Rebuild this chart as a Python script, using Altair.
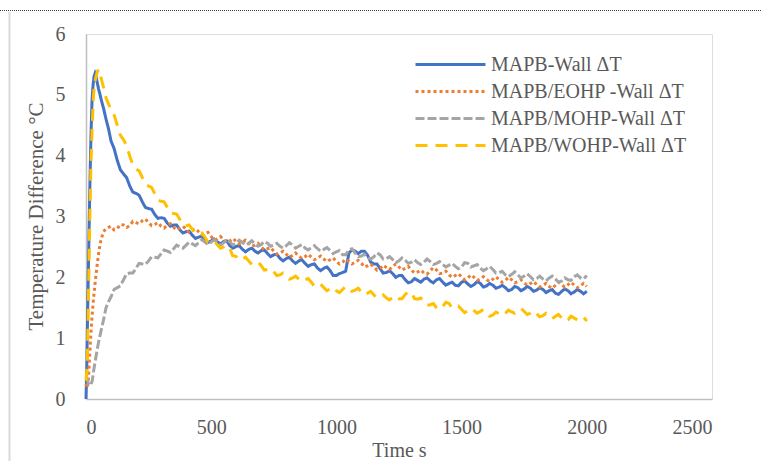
import altair as alt
import pandas as pd

# Series names, colours and dash patterns (Excel-style palette)
SERIES = ["MAPB-Wall ΔT", "MAPB/EOHP -Wall ΔT", "MAPB/MOHP-Wall ΔT", "MAPB/WOHP-Wall ΔT"]
COLORS = ["#4472C4", "#ED7D31", "#A5A5A5", "#FFC000"]
DASHES = [[1, 0], [3, 3], [9, 3], [12, 8]]

X_TICKS = [0, 500, 1000, 1500, 2000, 2500]
Y_TICKS = [0, 1, 2, 3, 4, 5, 6]

# Sampling grids after the initial transient (s): main samples and the
# in-between samples that carry the measurement jitter
T_LATE = list(range(100, 2001, 25))
T_MID = list(range(112, 1988, 25))

# ---------------- MAPB-Wall ----------------
t_wall = [0, 3, 6, 9, 12, 15, 18, 21, 24, 28, 32, 36, 40, 45, 50, 55, 62, 70, 80, 90] + T_LATE
v_wall = [0.00, 0.50, 1.30, 2.00, 2.70, 3.40, 4.00, 4.50, 4.90, 5.15, 5.30, 5.35, 5.30, 5.20,
          5.10, 5.02, 4.90, 4.78, 4.60, 4.44,
          4.24, 3.92, 3.70, 3.50, 3.38, 3.24, 3.13, 3.03, 2.98, 2.89, 2.86, 2.78, 2.75, 2.69,
          2.66, 2.62, 2.60, 2.58, 2.59, 2.52, 2.51, 2.46, 2.46, 2.43, 2.44, 2.39, 2.37, 2.31,
          2.31, 2.27, 2.27, 2.23, 2.21, 2.15, 2.15, 2.11, 2.03, 2.08, 2.40, 2.43, 2.43, 2.36,
          2.22, 2.14, 2.08, 2.06, 2.03, 1.96, 1.93, 1.95, 1.97, 1.94, 1.96, 1.92, 1.90, 1.87,
          1.92, 1.89, 1.88, 1.90, 1.86, 1.87, 1.84, 1.83, 1.80, 1.83, 1.81, 1.82, 1.79, 1.80,
          1.78, 1.74, 1.77, 1.78, 1.76, 1.77, 1.77]
v_wall_mid = [4.12, 3.77, 3.64, 3.40, 3.35, 3.15, 3.12, 2.97, 2.97, 2.84,
              2.86, 2.73, 2.76, 2.64, 2.68, 2.57, 2.63, 2.55, 2.60, 2.48,
              2.52, 2.42, 2.48, 2.40, 2.45, 2.34, 2.38, 2.27, 2.33, 2.23,
              2.29, 2.18, 2.22, 2.11, 2.17, 2.03, 2.06, 2.10, 2.45, 2.39,
              2.43, 2.25, 2.22, 2.07, 2.11, 2.00, 2.03, 1.91, 1.98, 1.92,
              1.99, 1.91, 1.98, 1.87, 1.92, 1.86, 1.94, 1.85, 1.93, 1.84,
              1.90, 1.82, 1.87, 1.78, 1.85, 1.78, 1.85, 1.77, 1.83, 1.75,
              1.80, 1.72, 1.81, 1.73, 1.80, 1.73]

# ---------------- MAPB/EOHP-Wall ----------------
t_eohp = [0, 5, 10, 15, 20, 25, 30, 35, 40, 45, 50, 55, 60, 70, 80, 90] + T_LATE
v_eohp = [0.25, 0.18, 0.35, 0.75, 1.10, 1.40, 1.65, 1.85, 2.05, 2.22, 2.38, 2.52, 2.62, 2.75,
          2.80, 2.82,
          2.84, 2.80, 2.86, 2.85, 2.90, 2.93, 2.90, 2.87, 2.84, 2.86, 2.82, 2.81, 2.79, 2.77,
          2.75, 2.72, 2.67, 2.63, 2.62, 2.60, 2.59, 2.58, 2.56, 2.53, 2.50, 2.47, 2.43, 2.40,
          2.38, 2.36, 2.35, 2.34, 2.33, 2.32, 2.30, 2.29, 2.26, 2.25, 2.26, 2.25, 2.23, 2.19,
          2.17, 2.15, 2.16, 2.18, 2.17, 2.15, 2.12, 2.09, 2.07, 2.11, 2.12, 2.07, 2.04, 2.03,
          2.01, 1.99, 2.00, 1.97, 1.96, 1.97, 1.96, 1.95, 1.96, 1.93, 1.91, 1.90, 1.88, 1.87,
          1.85, 1.87, 1.88, 1.88, 1.87, 1.86, 1.85]
v_eohp_mid = [2.78, 2.87, 2.82, 2.92, 2.88, 2.96, 2.85, 2.90, 2.81, 2.88,
              2.78, 2.84, 2.74, 2.80, 2.70, 2.74, 2.61, 2.67, 2.57, 2.64,
              2.55, 2.61, 2.51, 2.56, 2.45, 2.49, 2.38, 2.43, 2.33, 2.40,
              2.31, 2.38, 2.29, 2.35, 2.26, 2.32, 2.22, 2.30, 2.22, 2.28,
              2.17, 2.22, 2.12, 2.20, 2.13, 2.22, 2.12, 2.18, 2.07, 2.12,
              2.05, 2.16, 2.06, 2.10, 2.00, 2.06, 1.96, 2.04, 1.95, 2.01,
              1.93, 2.01, 1.92, 2.00, 1.91, 1.96, 1.87, 1.93, 1.84, 1.90,
              1.82, 1.92, 1.84, 1.92, 1.83, 1.90]

# ---------------- MAPB/MOHP-Wall ----------------
t_mohp = [0, 5, 10, 15, 20, 25, 30, 35, 40, 45, 50, 60, 70, 80, 90] + T_LATE
v_mohp = [0.37, 0.33, 0.25, 0.22, 0.24, 0.30, 0.45, 0.58, 0.70, 0.82, 0.93, 1.12, 1.30, 1.50,
          1.60,
          1.68, 1.83, 1.96, 2.07, 2.15, 2.22, 2.27, 2.33, 2.39, 2.43, 2.47, 2.50, 2.53, 2.55,
          2.57, 2.58, 2.58, 2.57, 2.57, 2.58, 2.56, 2.57, 2.56, 2.55, 2.54, 2.56, 2.53, 2.51,
          2.52, 2.53, 2.51, 2.48, 2.49, 2.47, 2.46, 2.44, 2.42, 2.37, 2.45, 2.40, 2.35, 2.33,
          2.34, 2.37, 2.31, 2.29, 2.27, 2.28, 2.25, 2.24, 2.25, 2.26, 2.23, 2.21, 2.20, 2.18,
          2.17, 2.23, 2.19, 2.15, 2.14, 2.13, 2.08, 2.04, 2.05, 2.04, 2.02, 2.01, 1.98, 1.97,
          1.99, 1.97, 1.94, 1.96, 2.01, 1.99, 2.03]
v_mohp_mid = [1.80, 1.86, 2.06, 2.07, 2.23, 2.21, 2.34, 2.32, 2.45, 2.41,
              2.53, 2.48, 2.58, 2.52, 2.62, 2.54, 2.62, 2.53, 2.62, 2.53,
              2.61, 2.53, 2.60, 2.51, 2.59, 2.51, 2.56, 2.48, 2.57, 2.48,
              2.54, 2.45, 2.52, 2.43, 2.49, 2.39, 2.44, 2.37, 2.47, 2.34,
              2.38, 2.30, 2.40, 2.30, 2.34, 2.24, 2.32, 2.23, 2.29, 2.21,
              2.30, 2.21, 2.26, 2.17, 2.23, 2.14, 2.24, 2.17, 2.21, 2.11,
              2.18, 2.07, 2.10, 2.01, 2.09, 1.99, 2.06, 1.96, 2.02, 1.94,
              2.02, 1.92, 1.99, 1.95, 2.04, 1.97]

# ---------------- MAPB/WOHP-Wall (extra sample at 585 s for the step) ----------------
t_wohp = ([0, 4, 8, 12, 16, 20, 25, 30, 35, 40, 45, 50, 55, 60, 70, 80, 90]
          + list(range(100, 576, 25)) + [585] + list(range(600, 2001, 25)))
v_wohp = [0.30, 0.50, 1.20, 2.20, 3.10, 3.90, 4.50, 5.00, 5.20, 5.30, 5.38, 5.42, 5.36, 5.28,
          5.12, 4.95, 4.85,
          4.76, 4.50, 4.26, 3.99, 3.78, 3.64, 3.50, 3.37, 3.25, 3.15, 3.05, 2.95, 2.85, 2.79,
          2.72, 2.66, 2.58, 2.53, 2.50, 2.47, 2.36, 2.34, 2.30, 2.27, 2.23, 2.19, 2.13, 2.09,
          2.04, 2.02, 1.99, 1.97, 1.96, 1.92, 1.86, 1.83, 1.81, 1.78, 1.80, 1.82, 1.79, 1.76,
          1.74, 1.71, 1.68, 1.66, 1.67, 1.65, 1.72, 1.74, 1.64, 1.60, 1.55, 1.50, 1.52, 1.57,
          1.51, 1.47, 1.45, 1.45, 1.44, 1.41, 1.38, 1.40, 1.41, 1.43, 1.46, 1.44, 1.41, 1.40,
          1.37, 1.36, 1.36, 1.33, 1.30, 1.33, 1.34, 1.28]
t_wohp_mid = [t for t in T_MID if t != 587]
v_wohp_mid = [4.67, 4.34, 4.17, 3.85, 3.75, 3.53, 3.48, 3.27, 3.24, 3.06,
              3.04, 2.86, 2.86, 2.72, 2.73, 2.58, 2.60, 2.48, 2.53,
              2.28, 2.33, 2.21, 2.25, 2.12, 2.15, 2.03, 2.07, 1.97, 2.02,
              1.93, 1.98, 1.85, 1.89, 1.78, 1.84, 1.75, 1.85, 1.77, 1.82,
              1.71, 1.77, 1.66, 1.71, 1.63, 1.70, 1.65, 1.77, 1.65, 1.66,
              1.54, 1.57, 1.47, 1.59, 1.50, 1.53, 1.42, 1.49, 1.41, 1.47,
              1.36, 1.43, 1.37, 1.46, 1.41, 1.49, 1.39, 1.45, 1.35, 1.41,
              1.32, 1.39, 1.28, 1.36, 1.30, 1.35]

parts = [
    (SERIES[0], t_wall + T_MID, v_wall + v_wall_mid),
    (SERIES[1], t_eohp + T_MID, v_eohp + v_eohp_mid),
    (SERIES[2], t_mohp + T_MID, v_mohp + v_mohp_mid),
    (SERIES[3], t_wohp + t_wohp_mid, v_wohp + v_wohp_mid),
]
df = pd.concat(
    [pd.DataFrame({"series": n, "t": ts, "v": vs}).sort_values("t") for n, ts, vs in parts],
    ignore_index=True,
)

FONT = "Liberation Serif"
TXT = "#595959"
AXIS_GRAY = "#BFBFBF"

# Legend key: a long horizontal stroke drawn as a custom symbol path
legend_opts = dict(
    title=None, orient="none", legendX=319, legendY=20, padding=0,
    symbolType="M0,0H8", symbolSize=306, symbolStrokeWidth=3,
    labelFont=FONT, labelFontSize=20, labelColor=TXT, labelLimit=400, labelOffset=65,
    rowPadding=6,
)

lines = alt.Chart(df).mark_line(strokeWidth=3).encode(
    x=alt.X("t:Q", scale=alt.Scale(domain=[0, 2500], nice=False),
            axis=alt.Axis(values=X_TICKS, format="d", title="Time s", grid=False, ticks=False,
                          domainColor=AXIS_GRAY, domainWidth=1.5,
                          labelFont=FONT, labelFontSize=20, labelColor=TXT,
                          labelBaseline="alphabetic", labelPadding=34,
                          titleFont=FONT, titleFontSize=20, titleColor=TXT,
                          titleFontWeight="normal", titleBaseline="alphabetic", titleY=57)),
    y=alt.Y("v:Q", scale=alt.Scale(domain=[0, 6], nice=False),
            axis=alt.Axis(values=Y_TICKS, title="Temperature Difference °C", grid=False,
                          ticks=False, domainColor=AXIS_GRAY, domainWidth=1.5,
                          labelFont=FONT, labelFontSize=20, labelColor=TXT, labelPadding=21,
                          titleFont=FONT, titleFontSize=21, titleColor=TXT,
                          titleFontWeight="normal", titleBaseline="alphabetic",
                          titleX=-44, titleY=182)),
    color=alt.Color("series:N", scale=alt.Scale(domain=SERIES, range=COLORS),
                    legend=alt.Legend(**legend_opts)),
    strokeDash=alt.StrokeDash("series:N", scale=alt.Scale(domain=SERIES, range=DASHES),
                              legend=alt.Legend(**legend_opts)),
)

one = pd.DataFrame({"k": [0]})
# Page frame: light left border and dotted top border
left_border = alt.Chart(one).mark_rule(color="#D9D9D9", strokeWidth=2).encode(
    x=alt.value(-76.5), y=alt.value(-22), y2=alt.value(427))
top_border = alt.Chart(one).mark_rule(color="#404040", strokeWidth=1, strokeDash=[1, 1]).encode(
    x=alt.value(-86), x2=alt.value(675), y=alt.value(-23.5))

chart = alt.layer(lines, left_border, top_border).properties(
    width=626, height=365,
    autosize=alt.AutoSizeParams(type="none"),
    padding={"left": 86, "top": 34, "right": 49, "bottom": 62},
).configure_view(stroke=None).configure(background="white")

chart.save("out.html", embed_options={"renderer": "svg", "actions": False})
